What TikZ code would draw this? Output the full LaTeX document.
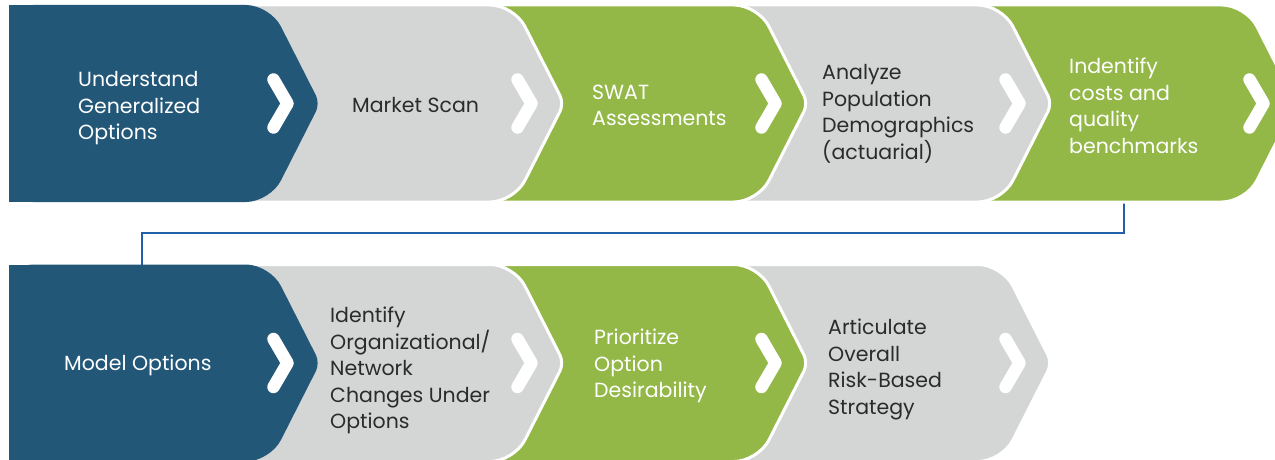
\documentclass[tikz,border=0pt]{standalone}
\usepackage{fontspec}
\setmainfont{Poppins}
\definecolor{navy}{HTML}{225778}
\definecolor{leaf}{HTML}{93B847}
\definecolor{mist}{HTML}{D4D5D5}
\definecolor{ink}{HTML}{2B2B2B}
\definecolor{wire}{HTML}{2160A8}

% one arrow-shaped step: #1 = sharp tip x, #2 = centre y, #3 = left x, #4 = style
\newcommand\flowstep[4]{%
  \path[#4] (#3,#2-98.5) [rounded corners=24pt] -- (#1-50,#2-98.5)
    [rounded corners=9pt] -- (#1,#2)
    [rounded corners=24pt] -- (#1-50,#2+98.5) -- (#3,#2+98.5) -- cycle;
  \draw[tick] (#1-46.5,#2-24) -- (#1-32.5,#2) -- (#1-46.5,#2+24);
}

\tikzset{
  navystep/.style={fill=navy},
  leafstep/.style={fill=leaf, draw=white, line width=3pt},
  miststep/.style={fill=mist, draw=white, line width=3pt},
  tick/.style={white, line width=12.5pt, line cap=round, line join=round},
  lighttxt/.style={anchor=west, align=left, inner sep=0pt, text=white,
    font=\fontsize{20.5}{26.5}\selectfont},
  darktxt/.style={lighttxt, text=ink},
  link/.style={wire, line width=2pt}
}

\begin{document}
\begin{tikzpicture}[x=1pt, y=-1pt]
\useasboundingbox (0,0) rectangle (1275,460);

% link from the last step of the first row to the first step of the second row
\coordinate (rowAend) at (1124,200);
\coordinate (rowBstart) at (142,267);
\draw[link] (rowAend) -- ++(0,32.5) -| (rowBstart);

% first row, drawn right to left so each step overlaps the next
\flowstep{1296}{103.5}{936}{leafstep}
\flowstep{1052}{103.5}{692}{miststep}
\flowstep{808}{103.5}{448}{leafstep}
\flowstep{564}{103.5}{204}{miststep}
\flowstep{320}{103.5}{9}{navystep}
\fill[navy] (9,5) rectangle (120,202);

% second row
\flowstep{1052}{363}{692}{miststep}
\flowstep{808}{363}{448}{leafstep}
\flowstep{564}{363}{204}{miststep}
\flowstep{320}{363}{9}{navystep}
\fill[navy] (9,264.5) rectangle (120,461.5);

% captions
\node[lighttxt] (a1) at (78,108.5) {Understand\\Generalized\\Options};
\node[darktxt]  (a2) at (352,105) {Market Scan};
\node[lighttxt] (a3) at (592,105.5) {SWAT\\Assessments};
\node[darktxt]  (a4) at (822,114) {Analyze\\Population\\Demographics\\(actuarial)};
\node[lighttxt] (a5) at (1069,106) {Indentify\\costs and\\quality\\benchmarks};

\node[lighttxt] (b1) at (64,365) {Model Options};
\node[darktxt]  (b2) at (330,370.5) {Identify\\Organizational/\\Network\\Changes Under\\Options};
\node[lighttxt] (b3) at (594,366) {Prioritize\\Option\\Desirability};
\node[darktxt]  (b4) at (828,369.5) {Articulate\\Overall\\Risk-Based\\Strategy};
\end{tikzpicture}
\end{document}
